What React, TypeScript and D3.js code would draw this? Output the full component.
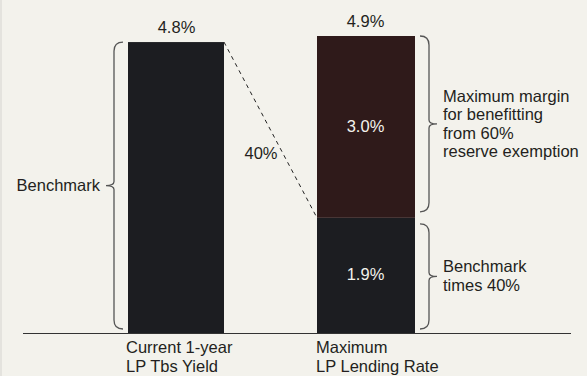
import React from "react";
import * as d3 from "d3";

const categories = ["Current 1-year\nLP Tbs Yield", "Maximum\nLP Lending Rate"];
const benchmarkYield = [4.8];
const lendingBase = [1.9];
const lendingMargin = [3.0];
const lendingTotal = [4.9];
const shareLabel = "40%";
const leftBraceText = ["Benchmark"];
const topBraceText = ["Maximum margin", "for benefitting", "from 60%", "reserve exemption"];
const bottomBraceText = ["Benchmark", "times 40%"];

const W = 587;
const H = 376;
const FONT = "'Liberation Sans', Arial, sans-serif";
const FS = 16.5;
const LH = 18.5;

function brace(x: number, y0: number, y1: number, dir: number, r = 9, tip = 8) {
  const xv = x + dir * r;
  const ym = (y0 + y1) / 2;
  const t = 4;
  return [
    `M${x},${y0}`,
    `Q${xv},${y0} ${xv},${y0 + r}`,
    `L${xv},${ym - t}`,
    `Q${xv},${ym} ${xv + dir * tip},${ym}`,
    `Q${xv},${ym} ${xv},${ym + t}`,
    `L${xv},${y1 - r}`,
    `Q${xv},${y1} ${x},${y1}`,
  ].join(" ");
}

function Lines({ x, y, lines, lh }: { x: number; y: number; lines: string[]; lh: number }) {
  return (
    <>
      {lines.map((t, i) => (
        <text key={i} x={x} y={y + i * lh}>{t}</text>
      ))}
    </>
  );
}

export default function App() {
  const x0 = 128;
  const x1 = 317;
  const bw = 97;
  const y = d3.scaleLinear().domain([0, lendingTotal[0]]).range([333, 36]);
  const base = y(0);

  const b1Top = y(benchmarkYield[0]);
  const split = y(lendingBase[0]);
  const b2Top = y(lendingBase[0] + lendingMargin[0]);

  const textColor = "#231f20";
  const braceColor = "#555";

  const topMid = (b2Top + split - 6) / 2;
  const botMid = (split + 6 + base - 4) / 2;

  return (
    <div style={{ position: "fixed", left: 0, top: 0 }}>
      <svg width={W} height={H} style={{ display: "block", fontFamily: FONT }}>
        <rect x={0} y={0} width={W} height={H} fill="#f3f2ec" />
        <rect x={0} y={0} width={2} height={H} fill="#e4e3de" />

        {/* bars */}
        <rect x={x0} y={b1Top} width={bw - 1} height={base - b1Top} fill="#1c1d21" />
        <rect x={x1} y={split} width={bw + 1} height={base - split} fill="#1c1d21" />
        <rect x={x1} y={b2Top} width={bw + 1} height={split - b2Top} fill="#2f1a1a" />

        {/* axis line */}
        <line x1={23} x2={571} y1={base + 0.5} y2={base + 0.5} stroke="#333" strokeWidth={1.2} />

        {/* dashed connector */}
        <line x1={x0 + bw - 1} y1={b1Top} x2={x1} y2={split} stroke="#222" strokeWidth={1} strokeDasharray="4,4" />

        {/* value labels */}
        <g fill={textColor} fontSize={FS} textAnchor="middle">
          <text x={x0 + bw / 2} y={b1Top - 9}>{benchmarkYield[0].toFixed(1)}%</text>
          <text x={x1 + bw / 2} y={b2Top - 9}>{lendingTotal[0].toFixed(1)}%</text>
          <text x={261} y={b1Top + 117}>{shareLabel}</text>
        </g>
        <g fill="#f3f2ec" fontSize={FS} textAnchor="middle">
          <text x={x1 + bw / 2} y={(b2Top + split) / 2 + 5}>{lendingMargin[0].toFixed(1)}%</text>
          <text x={x1 + bw / 2} y={(split + base) / 2 + 5}>{lendingBase[0].toFixed(1)}%</text>
        </g>

        {/* braces */}
        <g fill="none" stroke={braceColor} strokeWidth={1.3}>
          <path d={brace(123, b1Top, base - 4, -1)} />
          <path d={brace(420, b2Top, split - 6, 1)} />
          <path d={brace(420, split + 6, base - 4, 1)} />
        </g>

        {/* brace texts */}
        <g fill={textColor} fontSize={FS}>
          <text x={100} y={(b1Top + base - 4) / 2 + 5} textAnchor="end">{leftBraceText[0]}</text>
          <Lines x={443} y={topMid - 22} lines={topBraceText} lh={LH} />
          <Lines x={443} y={botMid - 4} lines={bottomBraceText} lh={LH} />
          <Lines x={x0 - 2} y={353} lines={categories[0].split("\n")} lh={LH} />
          <Lines x={x1 - 1} y={353} lines={categories[1].split("\n")} lh={LH} />
        </g>
      </svg>
    </div>
  );
}
